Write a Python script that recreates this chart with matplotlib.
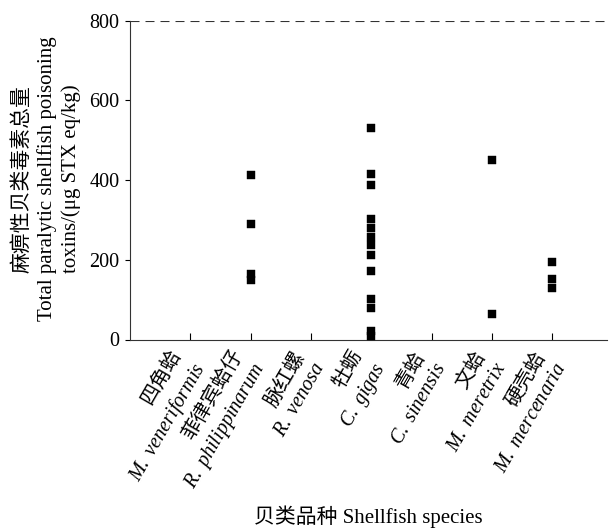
import matplotlib
matplotlib.use("Agg")
import matplotlib.pyplot as plt

plt.rcParams["font.family"] = ["Liberation Serif", "Noto Sans CJK SC"]
plt.rcParams["mathtext.fontset"] = "custom"
plt.rcParams["mathtext.it"] = "Liberation Serif:italic"
plt.rcParams["mathtext.rm"] = "Liberation Serif"

SPECIES_CN = ["四角蛤", "菲律宾蛤仔", "脉红螺", "牡蛎", "青蛤", "文蛤", "硬壳蛤"]
SPECIES_LATIN = ["M. veneriformis", "R. philippinarum", "R. venosa", "C. gigas",
                 "C. sinensis", "M. meretrix", "M. mercenaria"]

# measured toxin values per species (µg STX eq/kg)
VALUES = {
    "菲律宾蛤仔": [412, 290, 165, 150],
    "牡蛎": [530, 414, 388, 302, 280, 256, 237, 211, 173, 101, 79, 22, 8],
    "文蛤": [451, 65],
    "硬壳蛤": [195, 151, 128],
}
LIMIT = 800
FS = 14.5

fig = plt.figure(figsize=(6.11, 5.29), dpi=100)
ax = fig.add_axes([130 / 611, 1 - 339.5 / 529, 476.5 / 611, 319 / 529])

for i, name in enumerate(SPECIES_CN):
    vals = VALUES.get(name, [])
    ax.plot([i + 1] * len(vals), vals, ls="none", marker="s",
            ms=5.3, color="black", mec="black", mew=0.3, clip_on=False, zorder=3)

ax.axhline(LIMIT, color="#333333", lw=0.8, ls=(0, (8.1, 5.4)))

ax.set_xlim(0, 7.9)
ax.set_ylim(0, 800)
ax.set_yticks([0, 200, 400, 600, 800])
ax.set_xticks(range(1, len(SPECIES_CN) + 1))

labels = []
for cn, lat in zip(SPECIES_CN, SPECIES_LATIN):
    lat_math = lat.replace(" ", r"\ ")
    labels.append(cn + "\n" + r"$\it{" + lat_math + "}$")
ax.set_xticklabels(labels, rotation=60, ha="right", va="center",
                   rotation_mode="anchor", multialignment="right",
                   linespacing=1.3, fontsize=FS)

ax.tick_params(axis="x", direction="in", length=5, width=0.8, pad=14)
ax.tick_params(axis="y", direction="out", length=3.6, width=0.8, pad=4, labelsize=FS)

for side in ["top", "right"]:
    ax.spines[side].set_visible(False)
for side in ["left", "bottom"]:
    ax.spines[side].set_linewidth(0.8)
    ax.spines[side].set_color("#333333")

fig.text(47 / 611, 1 - 179 / 529,
         "麻痹性贝类毒素总量\nTotal paralytic shellfish poisoning\ntoxins/(μg STX eq/kg)",
         rotation=90, ha="center", va="center", fontsize=15,
         linespacing=1.3, multialignment="center")

fig.text(368 / 611, 1 - 517 / 529, "贝类品种 Shellfish species",
         ha="center", va="center", fontsize=15)

fig.savefig("out.png", dpi=100)
